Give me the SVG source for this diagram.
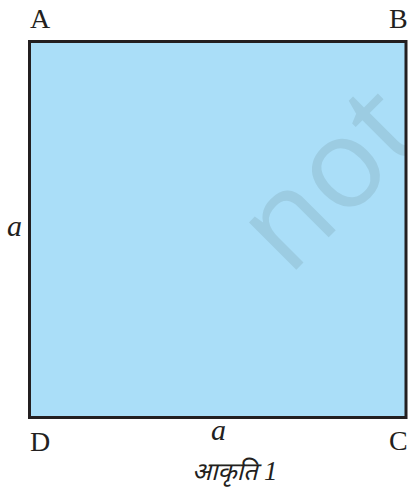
<svg xmlns="http://www.w3.org/2000/svg" width="408" height="489" viewBox="0 0 408 489">
<style>
.lbl{font-family:"Liberation Serif","Times New Roman",serif;font-size:28px;fill:#231f20}
.var{font-family:"Liberation Serif","Times New Roman",serif;font-size:30px;font-style:italic;fill:#231f20}
.cap{font-family:"Noto Sans Devanagari","Noto Serif Devanagari","Lohit Devanagari","Noto Sans",sans-serif;font-size:25px;font-style:italic;fill:#231f20}
.wm{font-family:"Open Sans","Noto Sans",sans-serif;font-size:125px;fill:#9ccce2}
</style>
<defs>
<clipPath id="sq"><rect x="29.5" y="41.5" width="376.5" height="376"/></clipPath>
</defs>
<rect x="0" y="0" width="408" height="489" fill="#ffffff"/>
<g id="square">
<rect x="29.5" y="41.5" width="376.5" height="376" fill="#aadef8"/>
<g clip-path="url(#sq)"><text class="wm" transform="translate(288.7 277.3) rotate(-45)">not</text></g>
<rect x="29.5" y="41.5" width="376.5" height="376" fill="none" stroke="#231f20" stroke-width="3"/>
</g>
<g id="labels">
<text class="lbl" x="30" y="28">A</text>
<text class="lbl" x="389" y="28">B</text>
<text class="lbl" x="30" y="451">D</text>
<text class="lbl" x="389" y="450">C</text>
<text class="var" x="7" y="236">a</text>
<text class="var" x="211" y="440">a</text>
<text class="cap" x="192" y="480">आकृति <tspan font-family="Liberation Serif, serif" font-size="27">1</tspan></text>
</g>
</svg>
